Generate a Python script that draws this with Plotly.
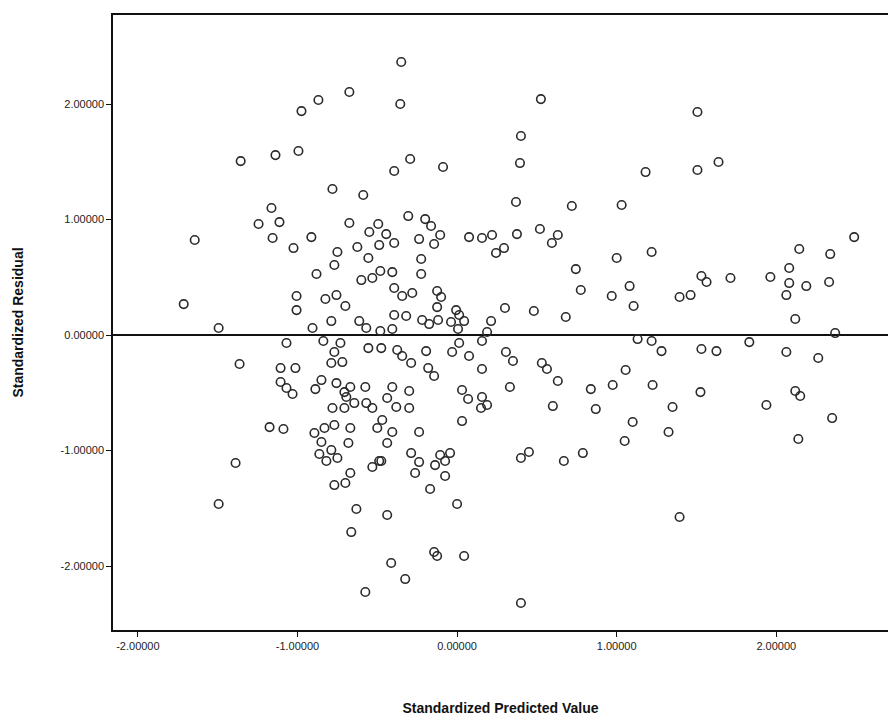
import plotly.graph_objects as go

# Standardized predicted values (x) and standardized residuals (y)
pred = [
    -1.356, -1.138, -1.163, -1.244, -1.113, -1.644, -1.156,
    -0.675, -0.869, -0.975, -0.994, -0.781, -0.588, -0.675, -0.494, -0.550, -0.913,
    -0.350, -0.356, -0.294, -0.394, -0.088, -0.306, -0.200, -0.163, -0.106, 0.075, -0.238, -0.444,
    0.525, 1.506, 0.400, 0.394, 1.181, 1.506, 1.638, 0.369, 0.719, 1.031, 2.488, 0.375, 0.519, 0.631, 0.219, 0.156,
    0.244, 0.294, 0.594, 1.000, 1.219, 2.144, 2.338, 0.744, 2.081, 0.775, 0.969, 1.081, 1.106, 1.394, 1.463,
    1.531, 1.563, 1.713, 1.963, 2.081, 2.188, 2.331, 2.063, 0.300, 0.481, 0.681, 0.213, 0.188, 2.119, 2.369,
    0.156, 1.131, 1.219, 1.281, 1.531, 1.625, 1.831, 2.063, 2.263, 0.306, 0.350, 0.531, 0.563, 0.156, 1.056,
    0.631, 0.331, 0.838, 0.975, 1.225, 1.525, 2.119, 2.150, 0.156, 0.188, 0.150, 0.600, 0.869, 1.350, 1.938,
    2.350, 1.100, 1.325, 1.050, 2.138,
    0.450, 0.400, 0.669, 0.788, 1.394, 0.400,
    -0.438, -0.475, -0.288, -0.238, -0.263, -0.106, -0.044, -0.075, -0.138, -0.075, -0.169, 0.000, -0.438,
    -0.144, -0.125, 0.044, -0.413, -0.325,
    -0.850, -0.681, -0.863, -0.788, -0.819, -0.750, -0.531, -0.488, -0.669, -0.769, -0.700, -0.631, -0.663, -0.575,
    -1.388, -1.494,
    -1.713, -1.494, -1.363, -1.106, -1.106, -1.175, -1.088,
    -1.025, -0.750, -0.769, -0.625, -0.556, -0.488, -0.881, -0.600, -0.531, -0.481, -1.006, -1.006, -0.825,
    -0.756, -0.700, -0.788, -0.906, -0.613, -0.569, -0.481, -1.069, -0.838, -0.731, -0.769, -0.788, -0.719,
    -0.556, -0.475, -1.013, -1.069, -1.031, -0.850, -0.888, -0.756, -0.706, -0.669, -0.575, -0.694, -0.781,
    -0.706, -0.644, -0.569, -0.531, -0.894, -0.831, -0.769, -0.669, -0.500,
    -0.394, -0.144, -0.225, -0.225, -0.406, -0.394, -0.344, -0.281, -0.125, -0.100, -0.125, -0.006, 0.013,
    -0.394, -0.319, -0.219, -0.175, -0.119, -0.038, 0.044, 0.006, -0.406, -0.375, -0.344, -0.288, -0.194,
    -0.181, -0.144, 0.013, -0.031, 0.075, -0.406, -0.438, -0.381, -0.300, -0.300, 0.031, 0.069, -0.469,
    0.031, -0.406, -0.238,
]
resid = [
    1.506, 1.558, 1.100, 0.961, 0.978, 0.823, 0.840,
    2.104, 2.035, 1.939, 1.593, 1.264, 1.212, 0.970, 0.961, 0.892, 0.848,
    2.364, 2.000, 1.524, 1.420, 1.455, 1.030, 1.004, 0.944, 0.866, 0.848, 0.831, 0.874,
    2.043, 1.931, 1.723, 1.489, 1.411, 1.429, 1.498, 1.152, 1.117, 1.126, 0.848, 0.874, 0.918, 0.866, 0.866, 0.840,
    0.710, 0.753, 0.797, 0.667, 0.719, 0.745, 0.701, 0.571, 0.580, 0.390, 0.338, 0.424, 0.251, 0.329, 0.346,
    0.511, 0.459, 0.494, 0.502, 0.450, 0.424, 0.459, 0.346, 0.234, 0.208, 0.156, 0.121, 0.026, 0.139, 0.017,
    -0.052, -0.035, -0.052, -0.139, -0.121, -0.139, -0.061, -0.147, -0.199, -0.147, -0.225, -0.242, -0.294, -0.294, -0.303,
    -0.398, -0.450, -0.468, -0.433, -0.433, -0.494, -0.485, -0.528, -0.537, -0.606, -0.632, -0.615, -0.641, -0.623, -0.606,
    -0.719, -0.753, -0.840, -0.918, -0.900,
    -1.013, -1.065, -1.091, -1.022, -1.576, -2.320,
    -0.935, -1.091, -1.022, -1.100, -1.195, -1.039, -1.022, -1.091, -1.126, -1.221, -1.333, -1.463, -1.558,
    -1.879, -1.913, -1.913, -1.974, -2.113,
    -0.926, -0.935, -1.030, -0.996, -1.091, -1.065, -1.143, -1.091, -1.195, -1.299, -1.281, -1.506, -1.706, -2.225,
    -1.108, -1.463,
    0.268, 0.061, -0.251, -0.286, -0.407, -0.797, -0.814,
    0.753, 0.719, 0.606, 0.762, 0.667, 0.779, 0.528, 0.476, 0.494, 0.554, 0.338, 0.216, 0.312,
    0.346, 0.251, 0.121, 0.061, 0.121, 0.061, 0.035, -0.069, -0.052, -0.069, -0.147, -0.242, -0.234,
    -0.113, -0.113, -0.286, -0.459, -0.511, -0.390, -0.468, -0.416, -0.494, -0.450, -0.450, -0.537, -0.632,
    -0.632, -0.589, -0.589, -0.632, -0.848, -0.805, -0.779, -0.805, -0.805,
    0.797, 0.788, 0.658, 0.528, 0.545, 0.407, 0.338, 0.364, 0.381, 0.329, 0.242, 0.216, 0.173,
    0.173, 0.165, 0.130, 0.095, 0.130, 0.113, 0.121, 0.052, 0.052, -0.130, -0.182, -0.242, -0.139,
    -0.286, -0.355, -0.069, -0.147, -0.182, -0.450, -0.545, -0.623, -0.485, -0.632, -0.476, -0.554, -0.736,
    -0.745, -0.840, -0.840,
]

tick_vals = [-2, -1, 0, 1, 2]
tick_text = ["-2.00000", "-1.00000", "0.00000", "1.00000", "2.00000"]

fig = go.Figure()
fig.add_trace(go.Scatter(
    x=pred, y=resid, mode="markers",
    marker=dict(symbol="circle-open", size=8.5, color="#2a2a2a", line=dict(width=1.6, color="#2a2a2a")),
    showlegend=False,
))

axis_font = dict(family="Liberation Sans, Arial, sans-serif", size=11, color="#222222")
title_font = dict(family="Liberation Sans, Arial, sans-serif", size=14, color="#111111")

fig.update_layout(
    width=888, height=721,
    margin=dict(l=113, r=0, t=15, b=91),
    paper_bgcolor="white", plot_bgcolor="white",
    xaxis=dict(
        range=[-2.156, 2.70],
        tickvals=tick_vals, ticktext=tick_text,
        showgrid=False, zeroline=False,
        showline=True, linecolor="#111111", linewidth=1.5, mirror=True,
        ticks="outside", ticklen=5, tickcolor="#111111",
        tickfont=axis_font,
        title=dict(text="<b>Standardized Predicted Value</b>", font=title_font, standoff=52),
    ),
    yaxis=dict(
        range=[-2.554, 2.771],
        tickvals=tick_vals, ticktext=tick_text,
        showgrid=False, zeroline=True, zerolinecolor="#111111", zerolinewidth=1.5,
        showline=True, linecolor="#111111", linewidth=1.5, mirror=False,
        ticks="outside", ticklen=5, tickcolor="#111111",
        tickfont=axis_font,
        title=dict(text="<b>Standardized Residual</b>", font=title_font, standoff=34),
    ),
)

fig.write_html("out.html")
